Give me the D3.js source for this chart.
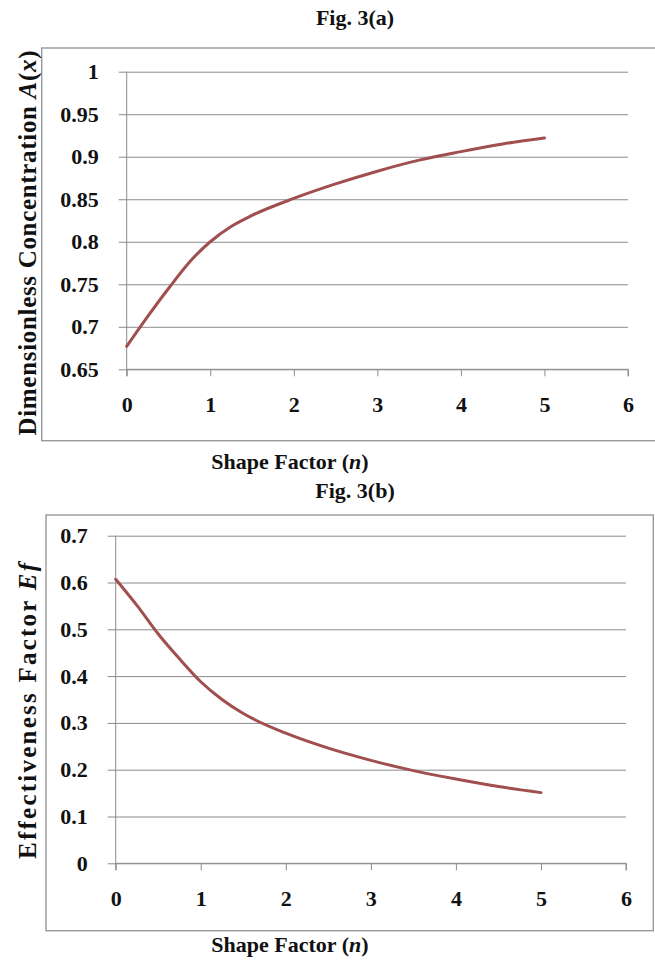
<!DOCTYPE html>
<html>
<head>
<meta charset="utf-8">
<script src="https://cdn.jsdelivr.net/npm/d3@7"></script>
<style>
  body { margin: 0; background: #fff; }
  svg { display: block; }
  text { font-family: "Liberation Serif", "Times New Roman", serif; font-weight: bold; fill: #111; }
</style>
</head>
<body>
<svg width="655" height="966"></svg>
<script>
// Fig. 3(a): dimensionless concentration vs shape factor
const shapeA = [0, 0.25, 0.5, 0.75, 1, 1.25, 1.5, 2, 2.5, 3, 3.5, 4, 4.5, 5];
const concA = [0.677, 0.712, 0.745, 0.776, 0.800, 0.818, 0.831, 0.851, 0.868, 0.883, 0.896, 0.906, 0.915, 0.922];
const yTicksA = [0.65, 0.7, 0.75, 0.8, 0.85, 0.9, 0.95, 1];

// Fig. 3(b): effectiveness factor vs shape factor
const shapeB = [0, 0.25, 0.5, 0.75, 1, 1.25, 1.5, 2, 2.5, 3, 3.5, 4, 4.5, 5];
const effB = [0.607, 0.551, 0.490, 0.437, 0.388, 0.350, 0.320, 0.278, 0.246, 0.220, 0.198, 0.180, 0.164, 0.151];
const yTicksB = [0, 0.1, 0.2, 0.3, 0.4, 0.5, 0.6, 0.7];

const xTicks = [0, 1, 2, 3, 4, 5, 6];

const lineColor = "#a04f4e";
const gridColor = "#8c8c8c";

const svg = d3.select("svg");

function drawPanel(opts)
{
  const g = svg.append("g");

  // outer frame
  g.append("rect")
    .attr("x", opts.frame[0])
    .attr("y", opts.frame[1])
    .attr("width", opts.frame[2] - opts.frame[0])
    .attr("height", opts.frame[3] - opts.frame[1])
    .attr("fill", "none")
    .attr("stroke", "#999")
    .attr("stroke-width", 1.4);

  const x = d3.scaleLinear().domain([0, 6]).range(opts.xRange);
  const y = d3.scaleLinear().domain(opts.yDomain).range(opts.yRange);

  // horizontal gridlines with left tick stubs
  const yAxis = d3.axisLeft(y)
    .tickValues(opts.yTicks)
    .tickSize(-(opts.xRange[1] - opts.xRange[0]) - 8)
    .tickFormat(d3.format("~g"));
  const gy = g.append("g")
    .attr("transform", `translate(${opts.xRange[0] - 8},0)`)
    .call(yAxis);
  gy.select(".domain").remove();
  gy.selectAll(".tick line").attr("stroke", gridColor).attr("stroke-width", 1);
  gy.selectAll(".tick text")
    .attr("x", -opts.yLabelGap)
    .attr("font-size", 22)
    .attr("fill", "#111");

  // vertical axis line
  g.append("line")
    .attr("x1", opts.xRange[0]).attr("x2", opts.xRange[0])
    .attr("y1", opts.yRange[1]).attr("y2", opts.yRange[0] + 7)
    .attr("stroke", gridColor);

  // bottom axis
  const xAxis = d3.axisBottom(x)
    .tickValues(xTicks)
    .tickFormat(d3.format("d"))
    .tickSize(7)
    .tickPadding(20);
  const gx = g.append("g")
    .attr("transform", `translate(0,${opts.yRange[0]})`)
    .call(xAxis);
  gx.select(".domain").attr("stroke", gridColor).attr("d", `M${opts.xRange[0]},0H${opts.xRange[1]}V7`);
  gx.selectAll(".tick line").attr("stroke", gridColor);
  gx.selectAll(".tick text")
    .attr("font-size", 22)
    .attr("fill", "#111");

  // data line
  const line = d3.line()
    .x((d) => x(d[0]))
    .y((d) => y(d[1]))
    .curve(d3.curveMonotoneX);
  g.append("path")
    .datum(opts.xs.map((v, i) => [v, opts.ys[i]]))
    .attr("d", line)
    .attr("fill", "none")
    .attr("stroke", lineColor)
    .attr("stroke-width", 3)
    .attr("stroke-linecap", "round");

  // chart title
  g.append("text")
    .attr("x", opts.title[0])
    .attr("y", opts.title[1])
    .attr("text-anchor", "middle")
    .attr("font-size", 22)
    .text(opts.titleText);

  // x axis title
  const xt = g.append("text")
    .attr("x", opts.xTitle[0])
    .attr("y", opts.xTitle[1])
    .attr("text-anchor", "middle")
    .attr("font-size", 22);
  xt.append("tspan").text("Shape Factor (");
  xt.append("tspan").attr("font-style", "italic").text("n");
  xt.append("tspan").text(")");

  // y axis title
  const yt = g.append("text")
    .attr("transform", `translate(${opts.yTitle[0]},${opts.yTitle[1]}) rotate(-90)`)
    .attr("text-anchor", "middle")
    .attr("font-size", 25)
    .attr("textLength", opts.yTitle[2])
    .attr("lengthAdjust", "spacing");
  opts.yTitleParts.forEach((p) =>
  {
    yt.append("tspan").attr("font-style", p[1] ? "italic" : "normal").text(p[0]);
  });
}

drawPanel({
  frame: [41.7, 48, 662, 440.7],
  xRange: [126.7, 628],
  yDomain: [0.65, 1],
  yRange: [369.3, 71.7],
  yTicks: yTicksA,
  yLabelGap: 20,
  xs: shapeA,
  ys: concA,
  title: [355, 25],
  titleText: "Fig. 3(a)",
  xTitle: [290, 469],
  yTitle: [36, 243, 385],
  yTitleParts: [["Dimensionless Concentration ", false], ["A", true], ["(", false], ["x", true], [")", false]],
});

drawPanel({
  frame: [46, 515, 653.3, 930.7],
  xRange: [115.7, 626],
  yDomain: [0, 0.7],
  yRange: [863.3, 535.7],
  yTicks: yTicksB,
  yLabelGap: 20,
  xs: shapeB,
  ys: effB,
  title: [355, 498],
  titleText: "Fig. 3(b)",
  xTitle: [290, 952],
  yTitle: [36, 711, 296],
  yTitleParts: [["Effectiveness Factor ", false], ["Ef", true]],
});
</script>
</body>
</html>
